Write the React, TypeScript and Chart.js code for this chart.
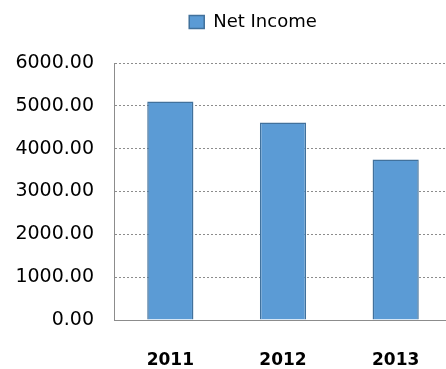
import React, { useEffect, useRef } from "react";
import { Chart, registerables } from "chart.js";

Chart.register(...registerables);

const categories = ["2011", "2012", "2013"];
const netIncome = [5100, 4610, 3750];
const seriesLabel = "Net Income";
const yMin = 0;
const yMax = 6000;
const yStep = 1000;

const CANVAS_W = 470;
const CANVAS_H = 369;
const TOP_EXTRA = 22;

const legendShift = {
  id: "legendShift",
  afterLayout(chart: any) {
    const lg = chart.legend;
    if (!lg) return;
    const target = 253;
    const cur = (lg.left + lg.right) / 2;
    const d = target - cur;
    lg.left += d;
    lg.right += d;
    lg.top -= TOP_EXTRA;
    lg.bottom -= TOP_EXTRA;
  },
};

export default function App() {
  const ref = useRef<HTMLCanvasElement | null>(null);
  useEffect(() => {
    if (!ref.current) return;
    const chart = new Chart(ref.current, {
      type: "bar",
      data: {
        labels: categories,
        datasets: [
          {
            label: seriesLabel,
            data: netIncome,
            backgroundColor: "#5B9BD5",
            borderColor: "#41719C",
            borderWidth: 1.5,
            categoryPercentage: 1,
            barPercentage: 0.41,
          },
        ],
      },
      plugins: [legendShift],
      options: {
        animation: false,
        responsive: false,
        maintainAspectRatio: false,
        layout: { padding: { top: TOP_EXTRA, right: CANVAS_W - 452, left: 0, bottom: 0 } },
        plugins: {
          tooltip: { enabled: false },
          legend: {
            display: true,
            position: "top",
            labels: {
              boxWidth: 15,
              boxHeight: 13,
              padding: 13,
              color: "#000",
              font: { family: "DejaVu Sans", size: 18 },
            },
          },
        },
        scales: {
          x: {
            grid: { display: false, drawTicks: false },
            border: { display: true, color: "#8c8c8c", width: 1 },
            ticks: {
              color: "#000",
              padding: 30,
              font: { family: "DejaVu Sans", size: 17, weight: "bold" },
            },
            afterFit(scale: any) {
              scale.height = 49;
            },
          },
          y: {
            min: yMin,
            max: yMax,
            grid: {
              drawTicks: false,
              color: "#8c8c8c",
              lineWidth: 1,
            },
            border: { display: true, color: "#8c8c8c", width: 1, dash: [2, 2] },
            ticks: {
              stepSize: yStep,
              color: "#000",
              padding: 20,
              font: { family: "DejaVu Sans", size: 19 },
              callback: (v: any) => Number(v).toFixed(2),
            },
            afterFit(scale: any) {
              scale.width = 114;
            },
          },
        },
      },
    });
    return () => chart.destroy();
  }, []);
  return (
    <div
      style={{
        position: "fixed",
        left: 0,
        top: 0,
        width: 446,
        height: 369,
        overflow: "hidden",
        background: "#fff",
      }}
    >
      <canvas ref={ref} width={CANVAS_W} height={CANVAS_H} style={{ display: "block" }} />
    </div>
  );
}
